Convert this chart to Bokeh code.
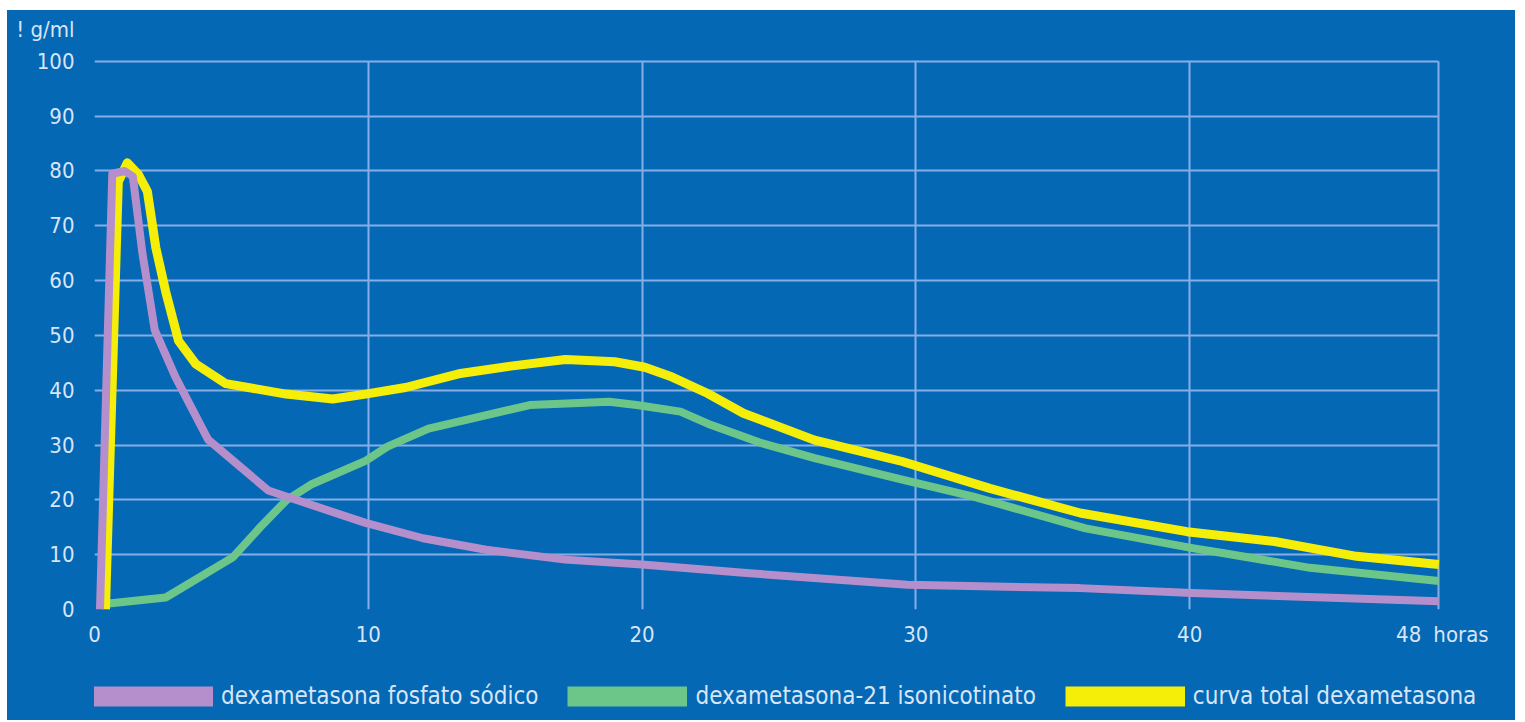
from bokeh.plotting import figure
from bokeh.models import Range1d, FixedTicker, Legend, LegendItem, Spacer, Grid
from bokeh.layouts import column, row
from bokeh.embed import file_html
from bokeh.resources import INLINE

# ---- data ----
fosfato_h = [0.2, 0.65, 1.1, 1.4, 1.75, 2.2, 2.95, 4.15, 6.35, 7.25, 9.9, 12.0, 14.3, 17.2, 20.0, 23.7, 29.7, 36.0, 40.1, 49.1]
fosfato_v = [0, 79.5, 80, 79, 65, 51, 42.5, 31, 21.7, 20.2, 15.8, 13, 10.9, 9.1, 8.2, 6.7, 4.5, 3.9, 3.0, 1.5]

isonic_h = [0.35, 2.6, 5.05, 6.05, 7.0, 7.95, 9.9, 10.7, 12.2, 15.9, 18.8, 19.8, 21.4, 22.4, 24.4, 26.3, 29.5, 32.1, 36.2, 40.1, 41.2, 44.4, 49.1]
isonic_v = [1, 2.2, 9.5, 15, 19.9, 22.9, 27.1, 29.7, 33, 37.3, 37.9, 37.3, 36.1, 33.9, 30.3, 27.6, 23.7, 20.6, 14.8, 11.2, 10.3, 7.6, 5.2]

total_h = [0.4, 0.87, 1.2, 1.6, 1.93, 2.24, 2.6, 3.07, 3.7, 4.8, 7.0, 8.7, 9.9, 11.36, 13.3, 15.2, 17.2, 19.0, 20.1, 21.1, 22.4, 23.7, 26.3, 29.5, 32.7, 36.0, 39.9, 43.1, 46.1, 49.1]
total_v = [0, 78, 81.5, 79.4, 76.3, 66, 58, 49, 44.8, 41.2, 39.3, 38.4, 39.3, 40.5, 43, 44.4, 45.6, 45.2, 44.2, 42.4, 39.4, 35.8, 30.9, 27, 22.1, 17.6, 14.2, 12.4, 9.7, 8.2]

x_ticks = [0, 10, 20, 30, 40, 48]
x_end = 49.1            # right edge of the plotted grid (hours)
y_ticks = [0, 10, 20, 30, 40, 50, 60, 70, 80, 90, 100]
y_end = 100

labels = ["dexametasona fosfato sódico", "dexametasona-21 isonicotinato", "curva total dexametasona"]
y_unit = "! g/ml"
x_unit = "horas"
y_unit_pos = 105.8      # where the unit text sits on the y scale
x_unit_pos = 49.91      # where the unit text sits on the x scale

# ---- style ----
BLUE = "#0468b4"
GRID = "#86aee6"
TXT = "#d8e5f7"
PURPLE = "#b48fcb"
GREEN = "#6cc68a"
YELLOW = "#f4ee08"
FONT = "DejaVu Sans Condensed, Liberation Sans Narrow, Roboto, sans-serif"

W = 1508

# ---------------- main chart ----------------
p = figure(width=W, height=650, x_range=Range1d(0, 51.5), y_range=Range1d(0, 108),
           output_backend="svg", toolbar_location=None,
           min_border_left=87, min_border_right=11, min_border_top=7, min_border_bottom=51)
p.background_fill_color = None
p.border_fill_color = BLUE
p.outline_line_color = None

for ax in (p.xaxis[0], p.yaxis[0]):
    ax.axis_line_color = None
    ax.major_tick_line_color = None
    ax.minor_tick_line_color = None
    ax.major_label_text_color = TXT
    ax.major_label_text_font = FONT
    ax.major_label_text_font_size = "22px"

p.xaxis.ticker = FixedTicker(ticks=x_ticks + [x_unit_pos])
p.xaxis.major_label_overrides = {x_unit_pos: x_unit}
p.xaxis.major_label_standoff = 6

p.yaxis.ticker = FixedTicker(ticks=y_ticks + [y_unit_pos])
p.yaxis.major_label_overrides = {y_unit_pos: y_unit}
p.yaxis.major_label_standoff = 14

xg, yg = p.xgrid[0], p.ygrid[0]
xg.ticker = FixedTicker(ticks=[0, 10, 20, 30, 40, x_end])
yg.ticker = FixedTicker(ticks=y_ticks)
has_cross = "cross_bounds" in Grid.properties()
if has_cross:
    xg.cross_bounds = (0, y_end)
    yg.cross_bounds = (0, x_end)
for g in (xg, yg):
    g.grid_line_color = GRID
    g.grid_line_width = 2
if not has_cross:
    # fallback: grid drawn as segments limited to the plotting box
    xg.visible = False
    yg.visible = False
    gx = [0, 10, 20, 30, 40, x_end]
    p.segment(x0=gx, y0=[0] * len(gx), x1=gx, y1=[y_end] * len(gx), line_color=GRID, line_width=2)
    p.segment(x0=[0] * len(y_ticks), y0=y_ticks, x1=[x_end] * len(y_ticks), y1=y_ticks,
              line_color=GRID, line_width=2)

p.line(isonic_h, isonic_v, line_color=GREEN, line_width=8, line_join="round")
p.line(total_h, total_v, line_color=YELLOW, line_width=9, line_join="round")
p.line(fosfato_h, fosfato_v, line_color=PURPLE, line_width=8, line_join="round")

# ---------------- legend strip ----------------
# the series are drawn again here only as legend keys; this strip's ranges lie
# outside the data, so the lines themselves are not visible
q = figure(width=W, height=60, x_range=Range1d(1000, 1001), y_range=Range1d(1000, 1001),
           output_backend="svg", toolbar_location=None,
           x_axis_location=None, y_axis_location=None,
           min_border_left=0, min_border_right=0, min_border_top=0, min_border_bottom=0)
q.background_fill_color = None
q.border_fill_color = BLUE
q.outline_line_color = None
q.grid.visible = False

items = []
for lab, col, hh, vv in zip(labels, [PURPLE, GREEN, YELLOW],
                            [fosfato_h, isonic_h, total_h], [fosfato_v, isonic_v, total_v]):
    r = q.line(hh, vv, line_color=col, line_width=20, line_cap="butt")
    items.append(LegendItem(label=lab, renderers=[r]))
lg = Legend(items=items, location=(-1, 10), orientation="horizontal",
            glyph_width=120, glyph_height=28, label_standoff=8, spacing=29,
            padding=0, margin=0, border_line_color=None, background_fill_alpha=0,
            label_text_color=TXT, label_text_font=FONT, label_text_font_size="24px",
            label_height=20)
q.add_layout(lg)

chart = column(p, q, styles={"background-color": BLUE})
page = column(Spacer(height=10), row(Spacer(width=7), chart))
open("out.html", "w").write(file_html(page, INLINE))
